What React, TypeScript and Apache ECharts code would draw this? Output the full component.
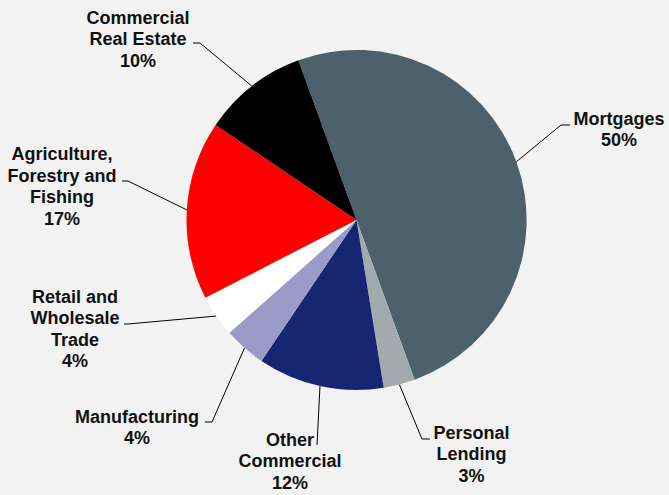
import React, { useEffect, useRef } from "react";
import * as echarts from "echarts";

const categories = [
  "Mortgages",
  "Personal Lending",
  "Other Commercial",
  "Manufacturing",
  "Retail and Wholesale Trade",
  "Agriculture, Forestry and Fishing",
  "Commercial Real Estate",
];
const labelTexts = [
  "Mortgages",
  "Personal\nLending",
  "Other\nCommercial",
  "Manufacturing",
  "Retail and\nWholesale\nTrade",
  "Agriculture,\nForestry and\nFishing",
  "Commercial\nReal Estate",
];
const values = [50, 3, 12, 4, 4, 17, 10];
const colors = ["#4c616c", "#a3aaae", "#162672", "#9b9bc8", "#ffffff", "#ff0000", "#000000"];

// label block centres and leader-line knee/end points (pixels)
const labelCenters: number[][] = [
  [619, 129.5],
  [471.5, 454],
  [290, 461],
  [137, 427.5],
  [75, 329],
  [62, 186.5],
  [138, 39],
];
const leaderPoints: number[][][] = [
  [[561, 125], [570, 125]],
  [[422, 439], [430, 439]],
  [[317, 445]],
  [[212, 422], [205, 422]],
  [[128, 324], [124, 324]],
  [[128, 181], [122, 181]],
  [[200, 43], [193, 43]],
];

export default function App() {
  const ref = useRef<HTMLDivElement>(null);
  useEffect(() => {
    if (!ref.current) return;
    const chart = echarts.init(ref.current, null, { renderer: "svg" });
    chart.setOption({
      animation: false,
      backgroundColor: "#f2f2f2",
      series: [
        {
          type: "pie",
          center: [356.5, 220],
          radius: 170,
          startAngle: 110,
          clockwise: true,
          avoidLabelOverlap: false,
          data: categories.map((name, i) => ({
            name,
            value: values[i],
            itemStyle: { color: colors[i] },
            label: { formatter: labelTexts[i] + "\n" + values[i] + "%" },
          })),
          itemStyle: { borderWidth: 0 },
          label: {
            show: true,
            position: "outside",
            color: "#111111",
            fontFamily: "Liberation Sans, Arial, sans-serif",
            fontWeight: "bold",
            fontSize: 18,
            lineHeight: 21.5,
            align: "center",
          },
          labelLine: {
            show: true,
            lineStyle: { color: "#000000", width: 1 },
          },
          emphasis: { disabled: true },
          labelLayout: (params: any) => {
            const i = params.dataIndex;
            const start = params.labelLinePoints ? params.labelLinePoints[0] : null;
            const pts = start ? [start, ...leaderPoints[i]] : undefined;
            return {
              x: labelCenters[i][0],
              y: labelCenters[i][1],
              align: "center",
              verticalAlign: "middle",
              labelLinePoints: pts,
            };
          },
        },
      ],
    });
    return () => chart.dispose();
  }, []);
  return (
    <div
      ref={ref}
      style={{ position: "fixed", left: 0, top: 0, width: 669, height: 495, background: "#f2f2f2" }}
    />
  );
}
